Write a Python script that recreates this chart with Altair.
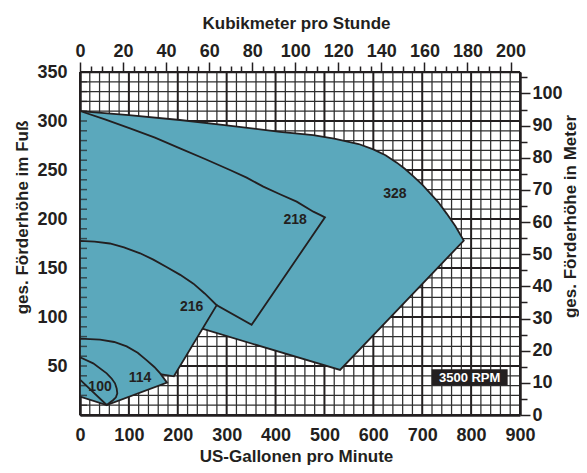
import altair as alt
import pandas as pd

# ---------------- data ----------------
# Region outlines as closed polygons: x = US gallons per minute, y = head in feet
r328_x = [0, 100, 204.5, 300, 409, 477, 520, 570, 600, 625, 648, 665, 682, 700, 716, 733, 750, 768, 785, 532, 250, 0]
r328_y = [310, 306, 301, 295.5, 289, 285.5, 282, 276.5, 271, 265, 257.5, 251, 243.5, 235, 226.5, 217, 205.5, 192.5, 178, 46, 88, 88]

r218_x = [0, 51.1, 102.3, 153.4, 204.5, 255.7, 306.8, 340.9, 375, 409, 443.2, 477.3, 492, 501.1, 351, 279.6, 0]
r218_y = [310.2, 301.7, 292.5, 283, 272.1, 261.2, 250, 242.2, 233, 225.2, 217.7, 207.5, 204, 201.7, 92, 112, 112]

r216_x = [0, 30, 61, 90, 123, 150, 177, 205, 232, 255, 279.6, 192, 164, 0]
r216_y = [177.6, 177, 175, 171, 165, 158.5, 151, 143, 134, 124, 112, 39.5, 41.8, 41.8]

r114_x = [0, 41, 70, 95.5, 118, 136, 152, 164, 178, 54.6, 0]
r114_y = [78, 77, 74.5, 70, 63.5, 56, 49, 42.5, 33, 10.2, 18.7]

r100_x = [0, 27, 54.6, 65, 71.6, 75, 76.3, 73.5, 68, 54.6, 0]
r100_y = [58.9, 52.7, 42.5, 37, 32.3, 27, 22.1, 18, 15.3, 10.2, 36]

region_names = ["328", "218", "216", "114", "100"]
label_x = [644, 440, 228.5, 122.7, 41]
label_y = [226, 199, 110.5, 37.4, 28.9]

rpm_text = "3500 RPM"
rpm_x = [797]
rpm_y = [38.5]

# axes
gpm_ticks = list(range(0, 901, 100))
ft_ticks = list(range(50, 351, 50))
m3h_ticks = list(range(0, 201, 5))
m_ticks = list(range(0, 106, 5))
GPM_PER_M3H = 4.40287
M_PER_FT = 0.3048

# ---------------- styling ----------------
FILL = "#5BA8BC"
INK = "#231f20"
FONT = "Liberation Sans, Arial, Helvetica, sans-serif"

X_SCALE = alt.Scale(domain=[0, 900], nice=False, zero=False)
Y_SCALE = alt.Scale(domain=[0, 350], nice=False, zero=False)

# ---------------- grid ----------------
vx = pd.DataFrame({"x": list(range(0, 901, 20))})
hy = pd.DataFrame({"y": list(range(0, 351, 10))})

grid_v_thin = alt.Chart(vx).transform_filter("datum.x % 100 != 0").mark_rule(
    stroke="#2e2e2e", strokeWidth=1.25).encode(x=alt.X("x:Q", scale=X_SCALE))
grid_v_thick = alt.Chart(vx).transform_filter("datum.x % 100 == 0").mark_rule(
    stroke=INK, strokeWidth=2).encode(x=alt.X("x:Q", scale=X_SCALE))
grid_h_thin = alt.Chart(hy).transform_filter("datum.y % 50 != 0").mark_rule(
    stroke="#2e2e2e", strokeWidth=1.25).encode(y=alt.Y("y:Q", scale=Y_SCALE))
grid_h_thick = alt.Chart(hy).transform_filter("datum.y % 50 == 0").mark_rule(
    stroke=INK, strokeWidth=2).encode(y=alt.Y("y:Q", scale=Y_SCALE))


def region(xs, ys):
    xs = list(xs) + [xs[0]]
    ys = list(ys) + [ys[0]]
    df = pd.DataFrame({"x": xs, "y": ys, "i": list(range(len(xs)))})
    return alt.Chart(df).mark_line(
        fill=FILL, stroke=INK, strokeWidth=1.8, strokeJoin="miter", interpolate="linear"
    ).encode(
        x=alt.X("x:Q", scale=X_SCALE),
        y=alt.Y("y:Q", scale=Y_SCALE),
        order=alt.Order("i:Q"),
    )


polys = [region(r328_x, r328_y), region(r218_x, r218_y), region(r216_x, r216_y),
         region(r114_x, r114_y), region(r100_x, r100_y)]

# inward ticks on the left axis
lt = pd.DataFrame({"y": list(range(10, 351, 10))})
left_ticks = alt.Chart(lt).mark_tick(orient="horizontal", size=7, thickness=1.5, color=INK).encode(
    y=alt.Y("y:Q", scale=Y_SCALE), x=alt.value(3.5))

labels_df = pd.DataFrame({"name": region_names, "x": label_x, "y": label_y})
labels = alt.Chart(labels_df).mark_text(
    font=FONT, fontSize=14, fontWeight="bold", color=INK, align="center", baseline="middle"
).encode(x=alt.X("x:Q", scale=X_SCALE), y=alt.Y("y:Q", scale=Y_SCALE), text="name:N")

rpm_df = pd.DataFrame({"x": rpm_x, "y": rpm_y, "t": [rpm_text]})
rpm_box = alt.Chart(rpm_df).mark_point(
    shape="M-1,-0.21H1V0.21H-1Z", size=5776, filled=True, fill=INK, opacity=1, strokeWidth=0
).encode(x=alt.X("x:Q", scale=X_SCALE), y=alt.Y("y:Q", scale=Y_SCALE))
rpm_label = alt.Chart(rpm_df).mark_text(
    font=FONT, fontSize=13, fontWeight="bold", color="white", align="center", baseline="middle", dy=1
).encode(x=alt.X("x:Q", scale=X_SCALE), y=alt.Y("y:Q", scale=Y_SCALE), text="t:N")

LBL = dict(labelFont=FONT, labelFontSize=18, labelFontWeight="bold", labelColor=INK,
           labelFlush=False, grid=False)
TTL = dict(titleFont=FONT, titleFontSize=17, titleFontWeight="bold", titleColor=INK,
           titleAlign="center")

# main axes (bottom / left) carried by an invisible layer
base_axes = alt.Chart(pd.DataFrame({"x": [0, 900], "y": [0, 350]})).mark_point(opacity=0).encode(
    x=alt.X("x:Q", scale=X_SCALE, axis=alt.Axis(
        orient="bottom", values=gpm_ticks, tickSize=0, domainWidth=2.5, domainColor=INK,
        labelPadding=11, **LBL,
        title="US-Gallonen pro Minute", titleX=216, titleY=46, titleBaseline="alphabetic", **TTL)),
    y=alt.Y("y:Q", scale=Y_SCALE, axis=alt.Axis(
        orient="left", values=ft_ticks, tickSize=0, domainWidth=2.5, domainColor=INK,
        labelPadding=13, **LBL,
        title="ges. Förderhöhe im Fuß", titleAngle=270, titleX=-58, titleY=145,
        titleBaseline="middle", **TTL)),
)

inner = alt.layer(grid_v_thin, grid_h_thin, grid_v_thick, grid_h_thick, base_axes,
                  *polys, left_ticks, labels, rpm_box, rpm_label)

# secondary axes (top: m3/h, right: m)
sec = alt.Chart(pd.DataFrame({"a": [0, 200], "b": [0, 100]})).mark_point(opacity=0).encode(
    x=alt.X("a:Q", scale=alt.Scale(domain=[0, 900 / GPM_PER_M3H], nice=False, zero=False),
            axis=alt.Axis(
                orient="top", values=m3h_ticks, domainWidth=1.5, domainColor=INK,
                tickColor=INK, tickWidth=1.5,
                tickSize={"condition": {"test": "datum.value % 20 === 0", "value": 10}, "value": 6},
                labelExpr="datum.value % 20 === 0 ? datum.label : ''",
                labelPadding=2, **LBL,
                title="Kubikmeter pro Stunde", titleX=216, titleY=-44,
                titleBaseline="alphabetic", **TTL)),
    y=alt.Y("b:Q", scale=alt.Scale(domain=[0, 350 * M_PER_FT], nice=False, zero=False),
            axis=alt.Axis(
                orient="right", values=m_ticks, domainWidth=2.5, domainColor=INK,
                tickColor=INK, tickWidth=1.5,
                tickSize={"condition": {"test": "datum.value % 10 === 0", "value": 10}, "value": 7},
                labelExpr="datum.value % 10 === 0 ? datum.label : ''",
                labelPadding=2, **LBL,
                title="ges. Förderhöhe in Meter", titleAngle=270, titleX=50, titleY=144,
                titleBaseline="middle", **TTL)),
)

chart = alt.layer(inner, sec).resolve_scale(x="independent", y="independent").properties(
    width=440, height=343,
    autosize=alt.AutoSizeParams(type="none"),
    padding={"left": 72, "top": 64, "right": 59, "bottom": 50},
    background="white",
).configure_view(stroke=None)

chart.save("out.html", embed_options={"renderer": "svg", "actions": False})
